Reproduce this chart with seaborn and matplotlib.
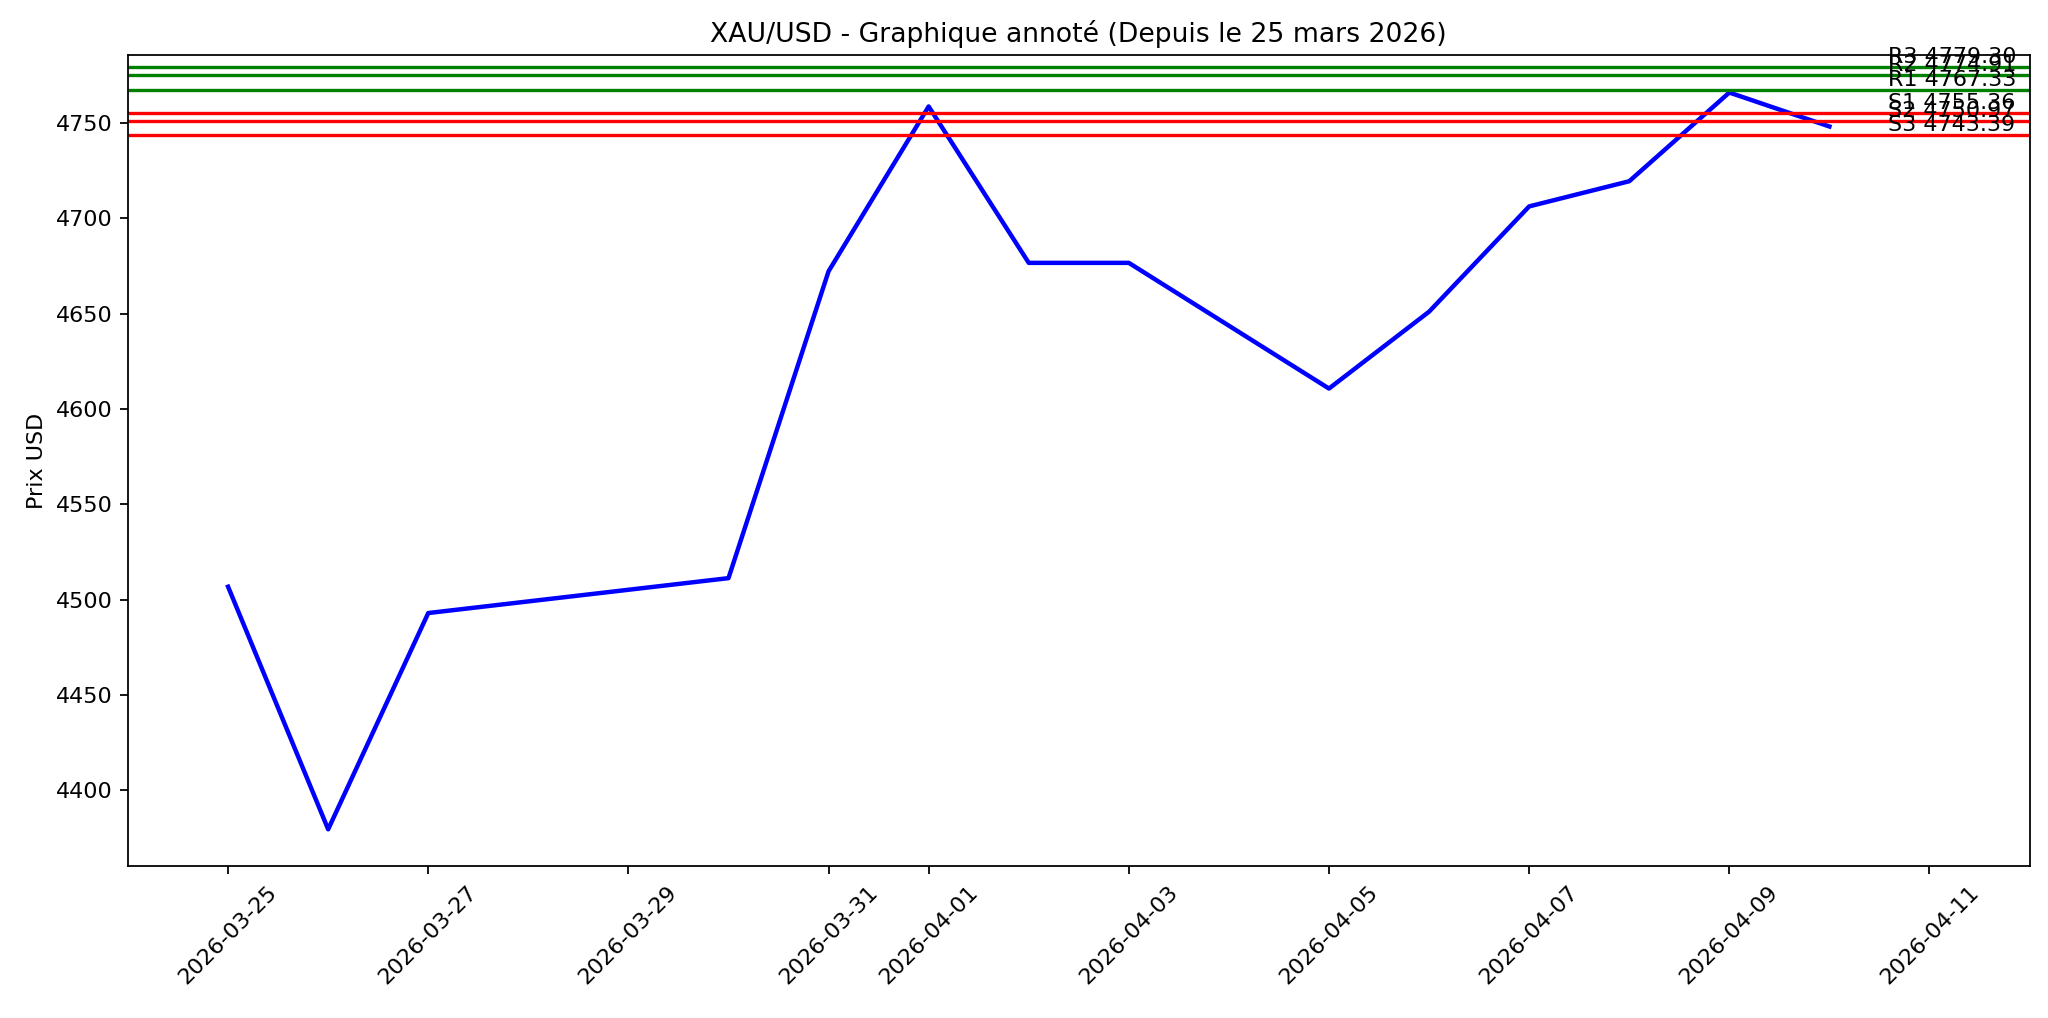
import pandas as pd
import matplotlib
matplotlib.use('Agg')
import matplotlib.pyplot as plt
import matplotlib.dates as mdates
import seaborn as sns

dates = ['2026-03-25', '2026-03-26', '2026-03-27', '2026-03-30', '2026-03-31',
         '2026-04-01', '2026-04-02', '2026-04-03', '2026-04-05', '2026-04-06',
         '2026-04-07', '2026-04-08', '2026-04-09', '2026-04-10']
prix = [4506.8, 4379.6, 4493.0, 4511.3, 4672.2, 4758.6, 4676.6, 4676.6,
        4610.7, 4651.0, 4706.2, 4719.4, 4765.9, 4748.1]

niveaux_noms = ['R1', 'R2', 'R3', 'S1', 'S2', 'S3']
niveaux_vals = [4767.33, 4774.91, 4779.30, 4755.36, 4750.97, 4743.39]
niveaux_couleurs = ['green', 'green', 'green', 'red', 'red', 'red']

df = pd.DataFrame({'date': pd.to_datetime(dates), 'prix': prix})

fig, ax = plt.subplots(figsize=(12.8, 6.3625), dpi=160)
sns.lineplot(data=df, x='date', y='prix', color='blue', linewidth=2, ax=ax)

for nom, val, c in zip(niveaux_noms, niveaux_vals, niveaux_couleurs):
    ax.axhline(val, color=c, linewidth=1.5)
    ax.text(df['date'].iloc[-1] + pd.Timedelta(hours=14), val, f'{nom} {val:.2f}',
            ha='left', va='bottom', fontsize=10)

ax.set_xlim(df['date'].iloc[0] - pd.Timedelta(days=1), df['date'].iloc[-1] + pd.Timedelta(days=2))
ax.set_ylim(4360.2, 4785.6)
ax.xaxis.set_major_locator(mdates.DayLocator(bymonthday=range(1, 32, 2)))
ax.xaxis.set_major_formatter(mdates.DateFormatter('%Y-%m-%d'))
plt.setp(ax.get_xticklabels(), rotation=45)
ax.set_title('XAU/USD - Graphique annoté (Depuis le 25 mars 2026)', fontsize=12)
ax.set_xlabel('')
ax.set_ylabel('Prix USD')
fig.subplots_adjust(left=0.0625, right=0.991, top=0.946, bottom=0.149)
plt.savefig('out.png', dpi=160)
